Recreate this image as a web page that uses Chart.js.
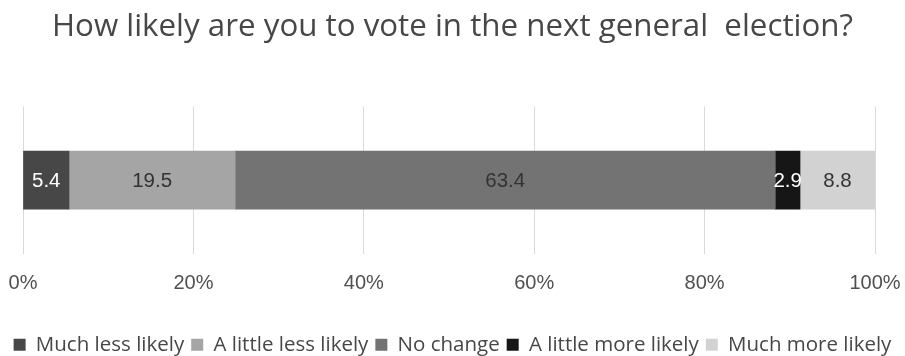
<!DOCTYPE html>
<html>
<head>
<meta charset="utf-8">
<script src="https://cdn.jsdelivr.net/npm/chart.js@4.4.1/dist/chart.umd.min.js"></script>
<style>
  html, body { margin: 0; padding: 0; background: #fff; }
  #wrap { width: 905px; height: 356px; }
</style>
</head>
<body>
<div id="wrap"><canvas id="chart" width="905" height="356"></canvas></div>
<script>
  // Data
  const categories = ["Vote"];
  const seriesNames = ["Much less likely", "A little less likely", "No change", "A little more likely", "Much more likely"];
  const seriesValues = [[5.4], [19.5], [63.4], [2.9], [8.8]];
  const seriesColors = ["#474747", "#a5a5a5", "#737373", "#161616", "#d2d2d2"];
  const labelColors = ["#ffffff", "#333333", "#333333", "#ffffff", "#333333"];
  const tickValues = [0, 20, 40, 60, 80, 100];

  // draws the value inside each segment
  const segmentLabels = {
    id: "segmentLabels",
    afterDatasetsDraw(chart) {
      const ctx = chart.ctx;
      ctx.save();
      ctx.font = "20.5px 'Liberation Sans', Arial, sans-serif";
      ctx.textAlign = "center";
      ctx.textBaseline = "middle";
      chart.data.datasets.forEach((ds, i) => {
        chart.getDatasetMeta(i).data.forEach((bar, j) => {
          const p = bar.getProps(["x", "y", "base"], true);
          ctx.fillStyle = labelColors[i];
          ctx.fillText(ds.data[j].toFixed(1), (p.x + p.base) / 2, p.y + 1);
        });
      });
      ctx.restore();
    }
  };

  new Chart(document.getElementById("chart"), {
    type: "bar",
    data: {
      labels: categories,
      datasets: seriesNames.map((name, i) => ({
        label: name,
        data: seriesValues[i],
        backgroundColor: seriesColors[i],
        borderWidth: 0,
        barThickness: 58,
      })),
    },
    options: {
      indexAxis: "y",
      responsive: false,
      animation: false,
      layout: { padding: { left: 0, right: 0, top: 0, bottom: -9 } },
      scales: {
        x: {
          stacked: true,
          min: 0,
          max: 100,
          afterBuildTicks: (axis) => { axis.ticks = tickValues.map((v) => ({ value: v })); },
          afterFit: (axis) => {
            axis.height += 13.75;
            axis.paddingLeft = 23;
            axis.paddingRight = 30;
          },
          ticks: {
            callback: (v) => v + "%",
            color: "#505050",
            padding: 18,
            font: { family: "'Liberation Sans', Arial, sans-serif", size: 20 },
            maxRotation: 0,
          },
          grid: { color: "#d9d9d9", lineWidth: 1, drawTicks: false },
          border: { display: false },
        },
        y: {
          stacked: true,
          display: false,
        },
      },
      plugins: {
        title: {
          display: true,
          text: "How likely are you to vote in the next general  election?",
          color: "#474747",
          font: { family: "'Open Sans', sans-serif", size: 31.3, weight: "normal" },
          padding: { top: 8, bottom: 61 },
        },
        legend: {
          position: "bottom",
          labels: {
            color: "#474747",
            boxWidth: 12,
            boxHeight: 12,
            padding: 7,
            font: { family: "'Open Sans', sans-serif", size: 20.5 },
          },
        },
        tooltip: { enabled: false },
      },
    },
    plugins: [segmentLabels],
  });
</script>
</body>
</html>
